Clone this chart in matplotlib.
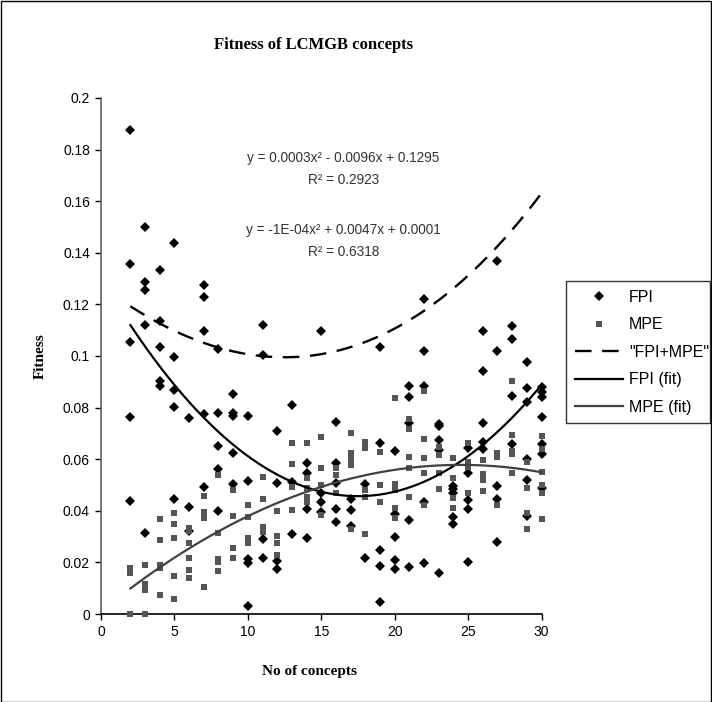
import matplotlib
matplotlib.use('Agg')
import matplotlib.pyplot as plt
import numpy as np
from matplotlib.lines import Line2D
from matplotlib.patches import Rectangle

plt.rcParams['font.family'] = ['Liberation Sans', 'DejaVu Sans']

# ---------------- data ----------------
n_concepts = list(range(2, 31))

fpi_by_n = [
    [0.1876, 0.1355, 0.1055, 0.0765, 0.0438],          # 2
    [0.1499, 0.1288, 0.1255, 0.1120, 0.0315],          # 3
    [0.1333, 0.1137, 0.1036, 0.0904, 0.0884],          # 4
    [0.1439, 0.0995, 0.0868, 0.0801, 0.0446],          # 5
    [0.0761, 0.0416, 0.0323],                          # 6
    [0.1276, 0.1227, 0.1097, 0.0774, 0.0493],          # 7
    [0.1027, 0.0778, 0.0651, 0.0561, 0.0400],          # 8
    [0.0851, 0.0778, 0.0767, 0.0625, 0.0504],          # 9
    [0.0767, 0.0516, 0.0213, 0.0196, 0.0031],          # 10
    [0.1120, 0.1004, 0.0290, 0.0216],                  # 11
    [0.0709, 0.0506, 0.0207, 0.0174],                  # 12
    [0.0810, 0.0513, 0.0310],                          # 13
    [0.0584, 0.0545, 0.0406, 0.0293],                  # 14
    [0.1097, 0.0468, 0.0435, 0.0397],                  # 15
    [0.0745, 0.0584, 0.0509, 0.0406, 0.0358],          # 16
    [0.0446, 0.0403, 0.0342],                          # 17
    [0.0503, 0.0216],                                  # 18
    [0.1036, 0.0664, 0.0248, 0.0187, 0.0045],          # 19
    [0.0633, 0.0388, 0.0300, 0.0208, 0.0175],          # 20
    [0.0884, 0.0843, 0.0741, 0.0364, 0.0183],          # 21
    [0.1221, 0.1020, 0.0883, 0.0435, 0.0196],          # 22
    [0.0737, 0.0727, 0.0675, 0.0636, 0.0157],          # 23
    [0.0496, 0.0483, 0.0468, 0.0375, 0.0349],          # 24
    [0.0645, 0.0545, 0.0443, 0.0406, 0.0203],          # 25
    [0.1097, 0.0940, 0.0741, 0.0668, 0.0638],          # 26
    [0.1368, 0.1020, 0.0496, 0.0444, 0.0280],          # 27
    [0.1115, 0.1067, 0.0845, 0.0659],                  # 28
    [0.0978, 0.0875, 0.0823, 0.0600, 0.0520, 0.0380],  # 29
    [0.0881, 0.0862, 0.0842, 0.0765, 0.0660, 0.0620, 0.0490],  # 30
]

mpe_by_n = [
    [0.0177, 0.0158, 0.0000],                          # 2
    [0.0190, 0.0116, 0.0093, 0.0000],                  # 3
    [0.0368, 0.0287, 0.0190, 0.0180, 0.0074],          # 4
    [0.0393, 0.0348, 0.0296, 0.0149, 0.0057],          # 5
    [0.0335, 0.0323, 0.0274, 0.0218, 0.0171, 0.0138],  # 6
    [0.0457, 0.0397, 0.0371, 0.0103],                  # 7
    [0.0539, 0.0313, 0.0212, 0.0203, 0.0168],          # 8
    [0.0481, 0.0380, 0.0255, 0.0216],                  # 9
    [0.0422, 0.0375, 0.0296, 0.0276],                  # 10
    [0.0532, 0.0444, 0.0338, 0.0319],                  # 11
    [0.0400, 0.0304, 0.0277, 0.0229],                  # 12
    [0.0662, 0.0581, 0.0493, 0.0403],                  # 13
    [0.0662, 0.0526, 0.0487, 0.0455, 0.0435],          # 14
    [0.0685, 0.0565, 0.0500, 0.0384],                  # 15
    [0.0565, 0.0539, 0.0468],                          # 16
    [0.0703, 0.0623, 0.0600, 0.0578, 0.0328],          # 17
    [0.0668, 0.0642, 0.0480, 0.0455, 0.0310],          # 18
    [0.0629, 0.0500, 0.0435],                          # 19
    [0.0836, 0.0503, 0.0480, 0.0410, 0.0371],          # 20
    [0.0755, 0.0718, 0.0607, 0.0567, 0.0452],          # 21
    [0.0866, 0.0679, 0.0603, 0.0548, 0.0422],          # 22
    [0.0648, 0.0616, 0.0548, 0.0483],                  # 23
    [0.0605, 0.0526, 0.0448, 0.0410],                  # 24
    [0.0662, 0.0590, 0.0571, 0.0468],                  # 25
    [0.0597, 0.0543, 0.0520, 0.0478],                  # 26
    [0.0623, 0.0610, 0.0422],                          # 27
    [0.0905, 0.0694, 0.0632, 0.0620, 0.0548],          # 28
    [0.0590, 0.0490, 0.0390, 0.0330],                  # 29
    [0.0690, 0.0640, 0.0550, 0.0500, 0.0470, 0.0370],  # 30
]

# trend-line coefficients (highest power first)
fpi_fit_coef = [0.000276, -0.00966, 0.1302]
mpe_fit_coef = [-0.0000946, 0.004636, 0.0010]
sum_fit_coef = [1.0e-6, 0.0001525, -0.00428, 0.12723]

series_labels = ['FPI', 'MPE', '"FPI+MPE"', 'FPI (fit)', 'MPE (fit)']
eq_fpi = 'y = 0.0003x² - 0.0096x + 0.1295'
r2_fpi = 'R² = 0.2923'
eq_mpe = 'y = -1E-04x² + 0.0047x + 0.0001'
r2_mpe = 'R² = 0.6318'

x_ticks = [0, 5, 10, 15, 20, 25, 30]
y_ticks = [0, 0.02, 0.04, 0.06, 0.08, 0.1, 0.12, 0.14, 0.16, 0.18, 0.2]
y_tick_labels = ['0', '0.02', '0.04', '0.06', '0.08', '0.1', '0.12', '0.14', '0.16', '0.18', '0.2']

title = 'Fitness of LCMGB concepts'
x_label = 'No of concepts'
y_label = 'Fitness'

# ---------------- figure ----------------
W, H = 712, 702
fig = plt.figure(figsize=(W / 100, H / 100), dpi=100)
fig.patch.set_facecolor('white')

left, right, top, bottom = 101, 541.5, 98, 614
ax = fig.add_axes([left / W, 1 - bottom / H, (right - left) / W, (bottom - top) / H])

fpi_x = [n for n, vals in zip(n_concepts, fpi_by_n) for _ in vals]
fpi_y = [v for vals in fpi_by_n for v in vals]
mpe_x = [n for n, vals in zip(n_concepts, mpe_by_n) for _ in vals]
mpe_y = [v for vals in mpe_by_n for v in vals]

fpi_style = dict(linestyle='none', marker='D', markersize=5.0, color='black', markeredgewidth=0)
mpe_style = dict(linestyle='none', marker='s', markersize=5.0, color='#555555', markeredgewidth=0)
sum_style = dict(color='black', lw=1.7, linestyle=(0, (7, 4.5)))
fpi_line_style = dict(color='black', lw=1.6)
mpe_line_style = dict(color='#404040', lw=1.6)

ax.plot(fpi_x, fpi_y, zorder=3, clip_on=False, **fpi_style)
ax.plot(mpe_x, mpe_y, zorder=4, clip_on=False, **mpe_style)

xs = np.linspace(n_concepts[0], n_concepts[-1], 300)
ax.plot(xs, np.polyval(sum_fit_coef, xs), zorder=5, **sum_style)
ax.plot(xs, np.polyval(fpi_fit_coef, xs), zorder=5, **fpi_line_style)
ax.plot(xs, np.polyval(mpe_fit_coef, xs), zorder=5, **mpe_line_style)

ax.set_xlim(0, 30)
ax.set_ylim(0, 0.2)
ax.set_xticks(x_ticks)
ax.set_xticklabels([str(t) for t in x_ticks])
ax.set_yticks(y_ticks)
ax.set_yticklabels(y_tick_labels)
ax.tick_params(axis='both', direction='out', length=4, width=1, colors='black',
               labelsize=10, pad=4)
for s in ['top', 'right']:
    ax.spines[s].set_visible(False)
ax.spines['left'].set_color('#606060')
ax.spines['bottom'].set_color('black')
ax.spines['left'].set_linewidth(1.2)
ax.spines['bottom'].set_linewidth(1.2)

# trendline equations
eq_color = '#333333'
eq_x = 16.5
for txt, yv in [(eq_fpi, 0.1767), (r2_fpi, 0.1682), (eq_mpe, 0.1488), (r2_mpe, 0.1403)]:
    ax.text(eq_x, yv, txt, ha='center', va='center', fontsize=9.8, color=eq_color)

# titles
fig.text(314 / W, 1 - 45 / H, title, ha='center', va='center',
         family='Liberation Serif', fontweight='bold', fontsize=12)
fig.text(310 / W, 1 - 672 / H, x_label, ha='center', va='center',
         family='Liberation Serif', fontweight='bold', fontsize=11)
fig.text(40 / W, 1 - 356 / H, y_label, ha='center', va='center', rotation=90,
         family='Liberation Serif', fontweight='bold', fontsize=11)

# legend
handles = [
    Line2D([], [], **fpi_style),
    Line2D([], [], **mpe_style),
    Line2D([], [], **sum_style),
    Line2D([], [], **fpi_line_style),
    Line2D([], [], **mpe_line_style),
]
leg = fig.legend(handles, series_labels, loc='upper left',
                 bbox_to_anchor=(566 / W, 1 - 288 / H, (710 - 566) / W, 0.01),
                 mode='expand', borderaxespad=0, fontsize=11.5, frameon=True,
                 fancybox=False, edgecolor='black', handlelength=3.0,
                 handletextpad=0.4, labelspacing=0.78, borderpad=0.55)
leg.get_frame().set_linewidth(1.0)

# outer chart border
fig.patches.append(Rectangle((0.5 / W, 0.5 / H), 1 - 1.5 / W, 1 - 1.5 / H,
                             transform=fig.transFigure, fill=False,
                             edgecolor='black', linewidth=1.0))

fig.savefig('out.png', dpi=100)
